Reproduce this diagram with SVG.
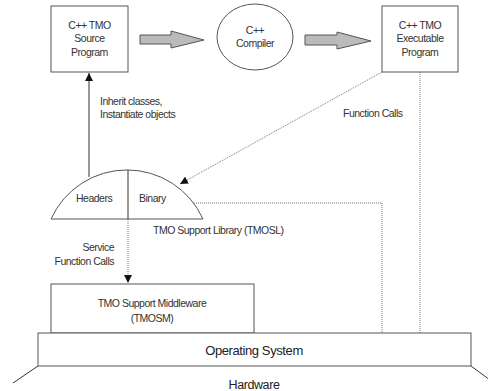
<svg xmlns="http://www.w3.org/2000/svg" width="488" height="391" viewBox="0 0 488 391">
<style>
text{font-family:"Liberation Sans",Arial,sans-serif;font-size:10.5px;letter-spacing:-0.5px;fill:#333}
.c{text-anchor:middle}
.r{text-anchor:end}
.lg{font-size:13px;letter-spacing:-0.4px;fill:#222}
.box{fill:#fff;stroke:#555;stroke-width:1}
.ln{fill:none;stroke:#333;stroke-width:1}
.dot{fill:none;stroke:#777;stroke-width:1;stroke-dasharray:1 1}
.big{fill:#bbb;stroke:#555;stroke-width:1}
</style>
<defs>
<marker id="ah" viewBox="0 0 10 10" refX="10" refY="5" markerWidth="8" markerHeight="8" markerUnits="userSpaceOnUse" orient="auto">
<path d="M0,0 L10,5 L0,10 Z" fill="#111"/>
</marker>
</defs>
<rect width="488" height="391" fill="#fff"/>
<g id="connectors">
<polygon class="big" points="140,35 171,35 171,31 204,40 171,48 171,44 140,44"/>
<polygon class="big" points="305,35 337,35 337,32 371,41 337,49 337,45 305,45"/>
<line class="ln" x1="89" y1="177" x2="89" y2="73" marker-end="url(#ah)"/>
<line class="dot" x1="382" y1="72" x2="180" y2="184" marker-end="url(#ah)"/>
<line class="dot" x1="420" y1="72" x2="420" y2="333"/>
<polyline class="dot" points="194,203 382,203 382,333"/>
<line class="dot" x1="128" y1="219" x2="128" y2="283" marker-end="url(#ah)"/>
<line class="ln" x1="38" y1="366" x2="13" y2="383"/>
<line class="ln" x1="471" y1="366" x2="490" y2="380"/>
</g>
<g id="source">
<rect class="box" x="51" y="6" width="77" height="66"/>
<text class="c" x="89.5" y="29">C++ TMO</text>
<text class="c" x="89.5" y="42">Source</text>
<text class="c" x="89.5" y="56">Program</text>
</g>
<g id="compiler">
<ellipse class="box" cx="255" cy="37" rx="38" ry="33"/>
<text class="c" x="255" y="34">C++</text>
<text class="c" x="255" y="47">Compiler</text>
</g>
<g id="executable">
<rect class="box" x="382" y="6" width="76" height="66"/>
<text class="c" x="420" y="29">C++ TMO</text>
<text class="c" x="420" y="42">Executable</text>
<text class="c" x="420" y="56">Program</text>
</g>
<g id="labels">
<text x="100" y="105">Inherit classes,</text>
<text x="100" y="118">Instantiate objects</text>
<text x="343" y="117">Function Calls</text>
<text class="r" x="114" y="251">Service</text>
<text class="r" x="114" y="265">Function Calls</text>
</g>
<g id="library">
<path class="box" d="M51,219 A83.4,83.4 0 0 1 203,219 Z"/>
<line class="ln" x1="128" y1="170" x2="128" y2="219"/>
<text x="76" y="202">Headers</text>
<text x="139" y="202">Binary</text>
<text x="153" y="234">TMO Support Library (TMOSL)</text>
</g>
<g id="middleware">
<rect class="box" x="51" y="284" width="203" height="49"/>
<text class="c" x="152" y="307">TMO Support Middleware</text>
<text class="c" x="152" y="322">(TMOSM)</text>
</g>
<g id="os">
<rect class="box" x="38" y="333" width="433" height="33"/>
<text class="c lg" x="254" y="355">Operating System</text>
</g>
<g id="hardware">
<text class="c lg" x="254" y="389" style="font-size:12.5px">Hardware</text>
</g>
</svg>
